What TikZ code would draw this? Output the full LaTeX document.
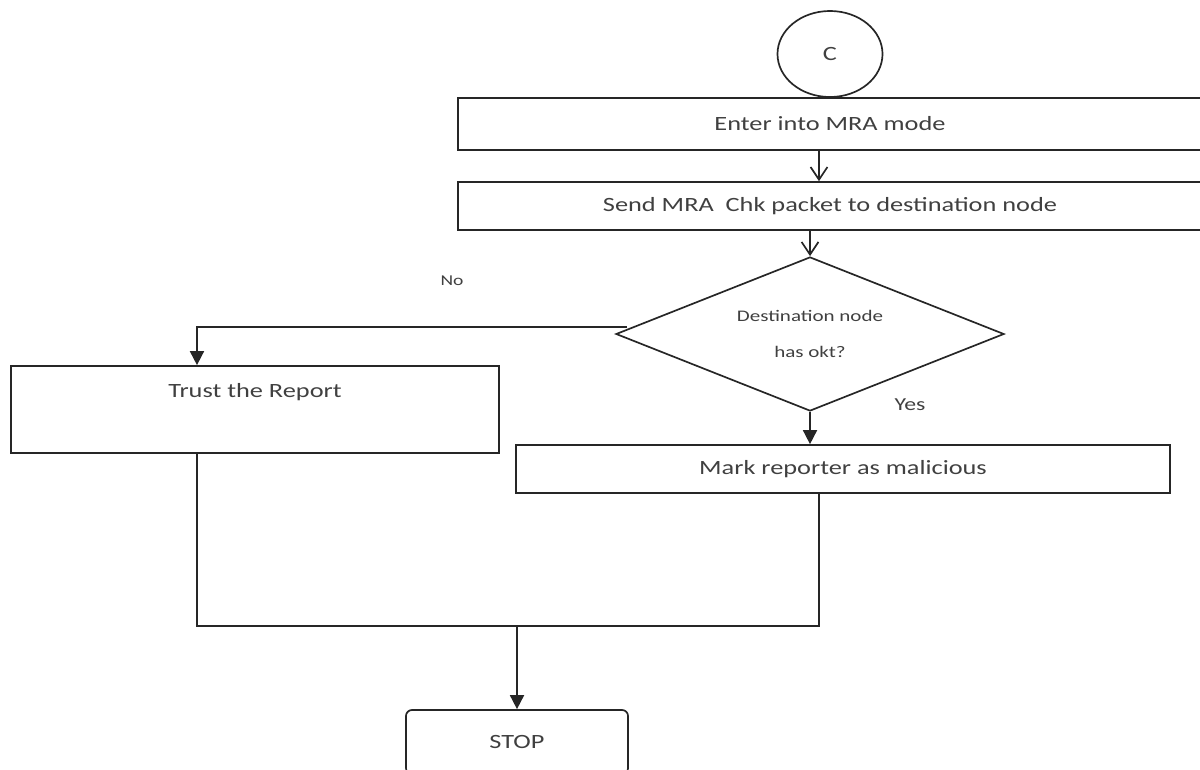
\documentclass[tikz,border=0pt]{standalone}
\usepackage{fontspec}
\setmainfont{Carlito}[FakeStretch=1.3]
\usetikzlibrary{shapes.geometric}
\usetikzlibrary{arrows.meta}

\begin{document}
\begin{tikzpicture}[x=0.025cm,y=-0.025cm,line width=1.2pt,color=black!85,
            every node/.style={text=black!75},
            box/.style={draw,rectangle,minimum height=1.2cm,font=\fontsize{14.4}{17}\selectfont},
            decision/.style={draw,diamond,shape aspect=2.5,minimum width=9.7cm,minimum height=3.85cm,align=center,font=\fontsize{11.5}{25}\selectfont},
            openarrow/.style={-{Straight Barb[length=9pt,width=12pt]}},
            fillarrow/.style={-{Triangle[length=10pt,width=10pt]}}]
            \useasboundingbox (0,0) rectangle (1200,769);
            \node[draw,ellipse,minimum width=2.625cm,minimum height=2.15cm,font=\fontsize{14.4}{17}\selectfont] (C) at (830,54) {C};
            \node[box,minimum width=18.6cm,minimum height=1.3cm] (enter) at (830,124) {Enter into MRA mode};
            \node[box,minimum width=18.6cm] (send) at (830,206) {Send MRA\ \ Chk packet to destination node};
            \node[decision] (dia) at (810,334) {Destination node\\has okt?};
            \node[box,minimum width=12.2cm,minimum height=2.175cm,text height=0.4cm,text depth=0.98cm] (trust) at (255,409.5) {Trust the Report};
            \node[box,minimum width=16.35cm] (mark) at (843,469) {Mark reporter as malicious};
            \node[box,rounded corners=0.15cm,minimum width=5.55cm,minimum height=1.6cm] (stop) at (517,742) {STOP};
            \node[font=\fontsize{10.7}{13}\selectfont] (no) at (452,281) {No};
            \node[font=\fontsize{13}{16}\selectfont] (yes) at (910,405) {Yes};
            \coordinate (join) at (517,626);
            \draw[openarrow] ([xshift=-0.275cm]enter.south) -- ([xshift=-0.275cm]send.north);
            \draw[openarrow] (send.south -| dia.north) -- (dia.north);
            \draw[fillarrow] ([xshift=0.3cm,yshift=0.175cm]dia.west) -| ([xshift=-1.45cm]trust.north);
            \draw[fillarrow] (dia.south) -- (dia.south |- mark.north);
            \draw ([xshift=-1.45cm]trust.south) |- (join);
            \draw ([xshift=-0.6cm]mark.south) |- (join);
            \draw[fillarrow] (join) -- (stop.north);
        \end{tikzpicture}
\end{document}
